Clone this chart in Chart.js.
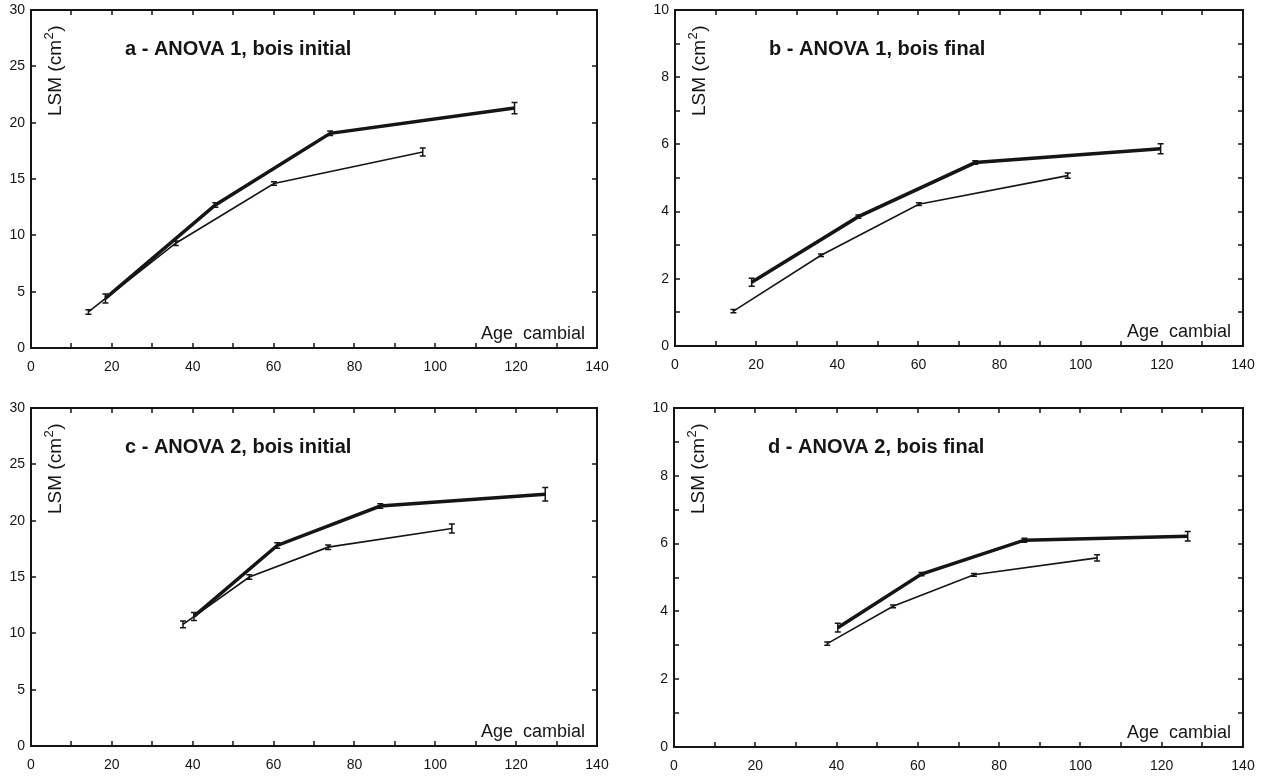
<!DOCTYPE html>
<html>
<head>
<meta charset="utf-8">
<script src="https://cdn.jsdelivr.net/npm/chart.js@4.4.0/dist/chart.umd.min.js"></script>
<style>
    body { margin: 0; background: #fff; }
    #wrap { position: relative; width: 1275px; height: 778px; overflow: hidden; }
    #wrap canvas { position: absolute; }
</style>
</head>
<body>
<div id="wrap">
    <canvas id="chartA" width="637" height="395" style="left:0;top:-6px"></canvas>
    <canvas id="chartB" width="635" height="395" style="left:640px;top:-6px"></canvas>
    <canvas id="chartC" width="637" height="389" style="left:0;top:389px"></canvas>
    <canvas id="chartD" width="635" height="389" style="left:640px;top:389px"></canvas>
</div>
<script>
// Tick labels
const ageTicks = [0, 20, 40, 60, 80, 100, 120, 140];
const lsmTicksInitial = [0, 5, 10, 15, 20, 25, 30];
const lsmTicksFinal = [0, 2, 4, 6, 8, 10];

// a - ANOVA 1, bois initial
const aThickAge = [18.4, 45.6, 74.0, 119.6];
const aThickLsm = [4.4, 12.7, 19.05, 21.3];
const aThickErr = [0.4, 0.2, 0.2, 0.5];
const aThinAge = [14.2, 35.8, 60.1, 96.9];
const aThinLsm = [3.2, 9.3, 14.6, 17.4];
const aThinErr = [0.2, 0.2, 0.15, 0.35];

// b - ANOVA 1, bois final
const bThickAge = [18.9, 45.2, 74.0, 119.7];
const bThickLsm = [1.9, 3.85, 5.46, 5.87];
const bThickErr = [0.12, 0.05, 0.05, 0.15];
const bThinAge = [14.4, 36.0, 60.1, 96.8];
const bThinLsm = [1.04, 2.7, 4.22, 5.07];
const bThinErr = [0.05, 0.04, 0.04, 0.08];

// c - ANOVA 2, bois initial
const cThickAge = [40.3, 60.9, 86.4, 127.2];
const cThickLsm = [11.5, 17.8, 21.3, 22.35];
const cThickErr = [0.35, 0.25, 0.2, 0.6];
const cThinAge = [37.6, 54.0, 73.5, 104.1];
const cThinLsm = [10.8, 15.0, 17.65, 19.3];
const cThinErr = [0.3, 0.2, 0.2, 0.4];

// d - ANOVA 2, bois final
const dThickAge = [40.3, 60.9, 86.2, 126.4];
const dThickLsm = [3.52, 5.1, 6.1, 6.22];
const dThickErr = [0.13, 0.05, 0.06, 0.14];
const dThinAge = [37.7, 53.9, 73.8, 104.1];
const dThinLsm = [3.05, 4.15, 5.08, 5.58];
const dThinErr = [0.05, 0.04, 0.04, 0.09];

const FONT = "'Liberation Sans', Arial, Helvetica, sans-serif";
const INK = '#151515';

function points(xs, ys) {
    return xs.map((x, i) => ({ x: x, y: ys[i] }));
}

// Frame, inward ticks, error bars and the texts inside each panel
const panelPlugin = {
    id: 'panel',
    afterDatasetsDraw(chart) {
        const ctx = chart.ctx;
        const x = chart.scales.x, y = chart.scales.y;
        ctx.save();
        ctx.strokeStyle = INK;
        ctx.lineWidth = 1.5;
        chart.data.datasets.forEach(ds => {
            ds.data.forEach((p, j) => {
                const px = x.getPixelForValue(p.x);
                const y1 = y.getPixelForValue(p.y + ds.errors[j]);
                const y2 = y.getPixelForValue(p.y - ds.errors[j]);
                ctx.beginPath();
                ctx.moveTo(px, y1); ctx.lineTo(px, y2);
                ctx.moveTo(px - 3, y1); ctx.lineTo(px + 3, y1);
                ctx.moveTo(px - 3, y2); ctx.lineTo(px + 3, y2);
                ctx.stroke();
            });
        });
        ctx.restore();
    },
    afterDraw(chart, args, opts) {
        const ctx = chart.ctx;
        const a = chart.chartArea;
        const x = chart.scales.x, y = chart.scales.y;
        ctx.save();
        ctx.strokeStyle = INK;
        ctx.lineWidth = 2;
        ctx.strokeRect(a.left, a.top, a.right - a.left, a.bottom - a.top);

        // inward ticks on all four sides
        ctx.lineWidth = 1.5;
        ctx.beginPath();
        for (let v = x.min + opts.xMinor; v < x.max; v += opts.xMinor) {
            const px = Math.round(x.getPixelForValue(v));
            ctx.moveTo(px, a.bottom); ctx.lineTo(px, a.bottom - 5);
            ctx.moveTo(px, a.top); ctx.lineTo(px, a.top + 5);
        }
        for (let v = y.min + opts.yMinor; v < y.max; v += opts.yMinor) {
            const py = Math.round(y.getPixelForValue(v));
            ctx.moveTo(a.left, py); ctx.lineTo(a.left + 5, py);
            ctx.moveTo(a.right, py); ctx.lineTo(a.right - 5, py);
        }
        ctx.stroke();

        ctx.fillStyle = INK;
        ctx.textBaseline = 'alphabetic';

        // panel title
        ctx.font = 'bold 20px ' + FONT;
        ctx.textAlign = 'left';
        ctx.fillText(opts.title, a.left + 94, a.top + 45);

        // x axis title
        ctx.font = '18px ' + FONT;
        ctx.textAlign = 'right';
        ctx.fillText('Age  cambial', a.right - 12, a.bottom - 9);

        // y axis title with superscript
        ctx.translate(a.left + 30, a.top + 106);
        ctx.rotate(-Math.PI / 2);
        ctx.textAlign = 'left';
        ctx.font = '19px ' + FONT;
        const part1 = 'LSM (cm';
        ctx.fillText(part1, 0, 0);
        let w = ctx.measureText(part1).width;
        ctx.font = '13px ' + FONT;
        ctx.fillText('2', w + 0.5, -8);
        w += ctx.measureText('2').width + 1;
        ctx.font = '19px ' + FONT;
        ctx.fillText(')', w, 0);
        ctx.restore();
    }
};

function createPanel(id, title, yTicks, yMinor, thick, thin, frame) {
    const yMax = yTicks[yTicks.length - 1];
    const yStep = yTicks[1] - yTicks[0];
    return new Chart(document.getElementById(id), {
        type: 'line',
        data: {
            datasets: [{
                data: points(thick.age, thick.lsm),
                errors: thick.err,
                borderColor: INK,
                borderWidth: 3.5,
                pointRadius: 0,
                tension: 0
            }, {
                data: points(thin.age, thin.lsm),
                errors: thin.err,
                borderColor: INK,
                borderWidth: 1.6,
                pointRadius: 0,
                tension: 0
            }]
        },
        options: {
            responsive: false,
            animation: false,
            events: [],
            layout: { padding: { top: frame.top, right: frame.right, left: 0, bottom: 0 } },
            plugins: {
                legend: { display: false },
                tooltip: { enabled: false },
                panel: { title: title, xMinor: 10, yMinor: yMinor }
            },
            scales: {
                x: {
                    type: 'linear',
                    min: ageTicks[0],
                    max: ageTicks[ageTicks.length - 1],
                    afterFit: s => { s.height = frame.xHeight; },
                    afterBuildTicks: s => { s.ticks = ageTicks.map(v => ({ value: v })); },
                    grid: { display: false, drawTicks: false },
                    border: { display: false },
                    ticks: { color: INK, padding: 11, maxRotation: 0, font: { family: FONT, size: 14 } }
                },
                y: {
                    type: 'linear',
                    min: 0,
                    max: yMax,
                    afterFit: s => { s.width = frame.yWidth; },
                    ticks: { stepSize: yStep, color: INK, padding: 6, font: { family: FONT, size: 14 } },
                    grid: { display: false, drawTicks: false },
                    border: { display: false }
                }
            }
        },
        plugins: [panelPlugin]
    });
}

createPanel('chartA', 'a - ANOVA 1, bois initial', lsmTicksInitial, 5,
    { age: aThickAge, lsm: aThickLsm, err: aThickErr },
    { age: aThinAge, lsm: aThinLsm, err: aThinErr },
    { top: 16, right: 40, yWidth: 31, xHeight: 41 });

createPanel('chartB', 'b - ANOVA 1, bois final', lsmTicksFinal, 1,
    { age: bThickAge, lsm: bThickLsm, err: bThickErr },
    { age: bThinAge, lsm: bThinLsm, err: bThinErr },
    { top: 16, right: 32, yWidth: 35, xHeight: 43 });

createPanel('chartC', 'c - ANOVA 2, bois initial', lsmTicksInitial, 5,
    { age: cThickAge, lsm: cThickLsm, err: cThickErr },
    { age: cThinAge, lsm: cThinLsm, err: cThinErr },
    { top: 19, right: 40, yWidth: 31, xHeight: 32 });

createPanel('chartD', 'd - ANOVA 2, bois final', lsmTicksFinal, 1,
    { age: dThickAge, lsm: dThickLsm, err: dThickErr },
    { age: dThinAge, lsm: dThinLsm, err: dThinErr },
    { top: 19, right: 32, yWidth: 34, xHeight: 31 });
</script>
</body>
</html>
